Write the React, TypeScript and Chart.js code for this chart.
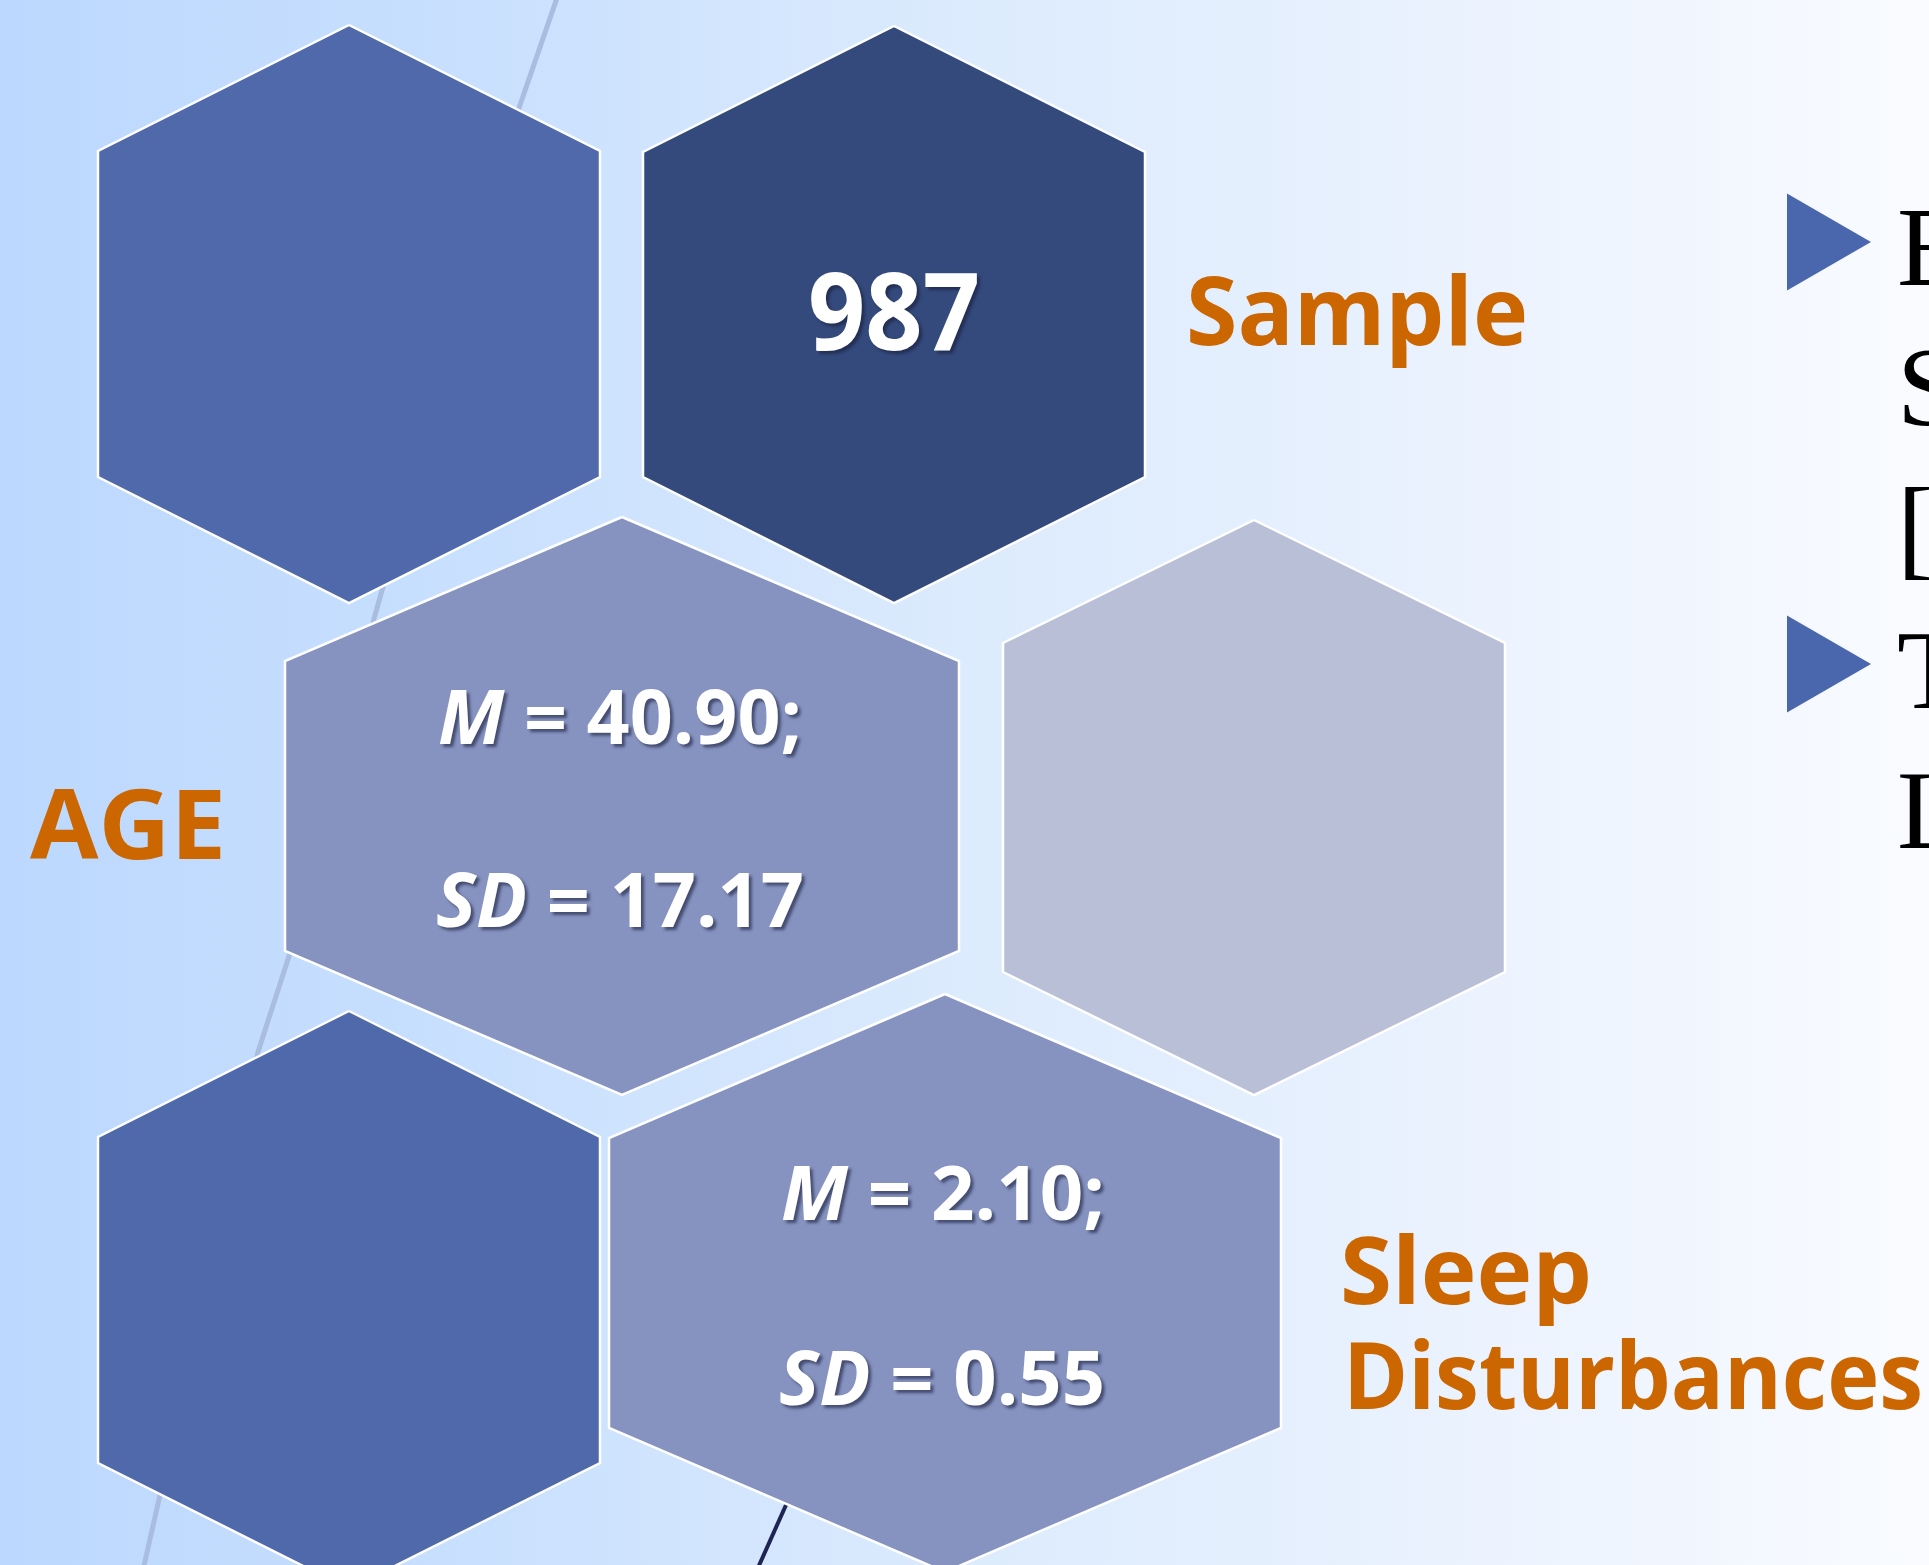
import React, { useEffect, useRef } from "react";
import { Chart, registerables } from "chart.js";

Chart.register(...registerables);

const W = 1929;
const H = 1565;

// ---- Hexagon tiles (slide coordinates) ----
const hexCenterX = [349, 894, 622, 1254, 349, 945];
const hexTop = [25, 26, 517, 520, 1011, 994];
const hexBottom = [603, 603, 1095, 1095, 1589, 1572];
const hexHalfWidth = [251, 251, 337, 251, 251, 336];
const hexShoulder = [126, 126, 144, 123, 126, 144];
const hexFill = ["#5069AB", "#344A7C", "#8693C0", "#BABFD8", "#5069AB", "#8693C0"];

// ---- Decorative background strokes ----
const lightLineX = [558, 519, 375, 290, 258, 160, 143];
const lightLineY = [-5, 108, 615, 953, 1052, 1495, 1570];
const darkLineX = [815, 757];
const darkLineY = [1440, 1570];

// ---- Statistics shown on the tiles ----
const sampleSize = "987";
const ageStats = ["40.90", "17.17"];
const sleepStats = ["2.10", "0.55"];
const categoryLabels = ["Sample", "AGE", "Sleep", "Disturbances"];

// ---- Bullet list on the right (clipped by the slide edge) ----
const bulletY = [242, 664];
const bulletGlyphs = ["E", "S", "[", "T", "L"];
const bulletBaselines = [285, 425, 565, 708, 848];

const ORANGE = "#CC6600";
const SANS = '"Open Sans", "DejaVu Sans", sans-serif';

function hexPoints(i: number) {
  const cx = hexCenterX[i];
  const t = hexTop[i];
  const b = hexBottom[i];
  const hw = hexHalfWidth[i];
  const s = hexShoulder[i];
  return [
    { x: cx, y: t },
    { x: cx + hw, y: t + s },
    { x: cx + hw, y: b - s },
    { x: cx, y: b },
    { x: cx - hw, y: b - s },
    { x: cx - hw, y: t + s },
    { x: cx, y: t },
  ];
}

type Part = { text: string; font: string };

function drawParts(
  ctx: CanvasRenderingContext2D,
  parts: Part[],
  x: number,
  y: number,
  targetW: number,
  align: "left" | "center",
  color: string,
  shadow: boolean
) {
  ctx.save();
  let total = 0;
  const widths = parts.map((p) => {
    ctx.font = p.font;
    const w = ctx.measureText(p.text).width;
    total += w;
    return w;
  });
  let sx = targetW / total;
  sx = Math.max(0.75, Math.min(1.25, sx));
  const drawnW = total * sx;
  const startX = align === "center" ? x - drawnW / 2 : x;
  if (shadow) {
    ctx.shadowColor = "rgba(25, 30, 60, 0.6)";
    ctx.shadowOffsetX = 3;
    ctx.shadowOffsetY = 3;
    ctx.shadowBlur = 3;
  }
  ctx.fillStyle = color;
  ctx.textBaseline = "alphabetic";
  ctx.textAlign = "left";
  ctx.translate(startX, y);
  ctx.scale(sx, 1);
  let cur = 0;
  parts.forEach((p, k) => {
    ctx.font = p.font;
    ctx.fillText(p.text, cur, 0);
    cur += widths[k];
  });
  ctx.restore();
}

const backgroundPlugin = {
  id: "slideBackground",
  beforeDraw(chart: any) {
    const { ctx, width, height } = chart;
    const g = ctx.createLinearGradient(0, 0, width, 0);
    g.addColorStop(0, "#BCD8FE");
    g.addColorStop(0.25, "#C9E0FE");
    g.addColorStop(0.5, "#DCEBFD");
    g.addColorStop(0.75, "#EAF2FE");
    g.addColorStop(1, "#F9FBFF");
    ctx.save();
    ctx.fillStyle = g;
    ctx.fillRect(0, 0, width, height);
    ctx.restore();
  },
};

const labelsPlugin = {
  id: "slideLabels",
  afterDatasetsDraw(chart: any) {
    const ctx: CanvasRenderingContext2D = chart.ctx;
    const xs = chart.scales.x;
    const ys = chart.scales.y;
    const px = (v: number) => xs.getPixelForValue(v);
    const py = (v: number) => ys.getPixelForValue(v);
    const bold = (size: number) => `bold ${size}px ${SANS}`;
    const boldItalic = (size: number) => `italic bold ${size}px ${SANS}`;

    // Sample size
    drawParts(ctx, [{ text: sampleSize, font: bold(108) }], px(894), py(350), 172, "center", "#FFFFFF", true);
    // Category labels
    drawParts(ctx, [{ text: categoryLabels[0], font: bold(95) }], px(1186), py(345), 342, "left", ORANGE, false);
    drawParts(ctx, [{ text: categoryLabels[1], font: bold(96) }], px(30), py(859), 196, "left", ORANGE, false);
    drawParts(ctx, [{ text: categoryLabels[2], font: bold(94) }], px(1340), py(1304), 252, "left", ORANGE, false);
    drawParts(ctx, [{ text: categoryLabels[3], font: bold(94) }], px(1343), py(1409), 580, "left", ORANGE, false);

    // Age stats
    drawParts(
      ctx,
      [
        { text: "M", font: boldItalic(76) },
        { text: ` = ${ageStats[0]};`, font: bold(76) },
      ],
      px(620), py(744), 364, "center", "#FFFFFF", true
    );
    drawParts(
      ctx,
      [
        { text: "SD", font: boldItalic(76) },
        { text: ` = ${ageStats[1]}`, font: bold(76) },
      ],
      px(620), py(927), 368, "center", "#FFFFFF", true
    );
    // Sleep stats
    drawParts(
      ctx,
      [
        { text: "M", font: boldItalic(76) },
        { text: ` = ${sleepStats[0]};`, font: bold(76) },
      ],
      px(943), py(1220), 324, "center", "#FFFFFF", true
    );
    drawParts(
      ctx,
      [
        { text: "SD", font: boldItalic(76) },
        { text: ` = ${sleepStats[1]}`, font: bold(76) },
      ],
      px(942), py(1405), 326, "center", "#FFFFFF", true
    );

    // Right-hand bullet text (clipped by slide edge)
    ctx.save();
    ctx.fillStyle = "#000000";
    ctx.font = `113px "Liberation Serif", "DejaVu Serif", serif`;
    ctx.textAlign = "left";
    ctx.textBaseline = "alphabetic";
    bulletGlyphs.forEach((g, k) => {
      ctx.fillText(g, px(1897), py(bulletBaselines[k]));
    });
    ctx.restore();
  },
};

export default function App() {
  const canvasRef = useRef<HTMLCanvasElement | null>(null);

  useEffect(() => {
    const canvas = canvasRef.current;
    if (!canvas) return;

    const datasets: any[] = [];
    // background strokes (drawn first / lowest)
    datasets.push({
      label: "stroke-light",
      data: lightLineX.map((x, i) => ({ x, y: lightLineY[i] })),
      showLine: true,
      borderColor: "#A9BDE0",
      borderWidth: 5,
      pointRadius: 0,
      fill: false,
      order: 20,
    });
    datasets.push({
      label: "stroke-dark",
      data: darkLineX.map((x, i) => ({ x, y: darkLineY[i] })),
      showLine: true,
      borderColor: "#1F2552",
      borderWidth: 4,
      pointRadius: 0,
      fill: false,
      order: 19,
    });
    hexCenterX.forEach((_, i) => {
      datasets.push({
        label: `hex-${i}`,
        data: hexPoints(i),
        showLine: true,
        borderColor: "#FFFFFF",
        borderWidth: 2.5,
        borderJoinStyle: "miter",
        backgroundColor: hexFill[i],
        pointRadius: 0,
        fill: "shape",
        tension: 0,
        order: 10 - i,
      });
    });
    datasets.push({
      label: "bullets",
      data: bulletY.map((y) => ({ x: 1815, y })),
      showLine: false,
      pointStyle: "triangle",
      rotation: 90,
      pointRadius: 56,
      pointBackgroundColor: "#4A67AD",
      pointBorderWidth: 0,
      pointBorderColor: "rgba(0,0,0,0)",
      order: 0,
    });

    const chart = new Chart(canvas, {
      type: "scatter",
      data: { datasets },
      options: {
        responsive: false,
        maintainAspectRatio: false,
        devicePixelRatio: 1,
        animation: false,
        events: [],
        layout: { padding: 0, autoPadding: false },
        plugins: {
          legend: { display: false },
          tooltip: { enabled: false },
        },
        scales: {
          x: { type: "linear", min: 0, max: W, display: false },
          y: { type: "linear", min: 0, max: H, reverse: true, display: false },
        },
      },
      plugins: [backgroundPlugin, labelsPlugin],
    });

    return () => {
      chart.destroy();
    };
  }, []);

  return (
    <div
      style={{
        position: "fixed",
        left: 0,
        top: 0,
        width: W,
        height: H,
        overflow: "hidden",
      }}
    >
      <canvas ref={canvasRef} width={W} height={H} style={{ display: "block", width: W, height: H }} />
    </div>
  );
}
